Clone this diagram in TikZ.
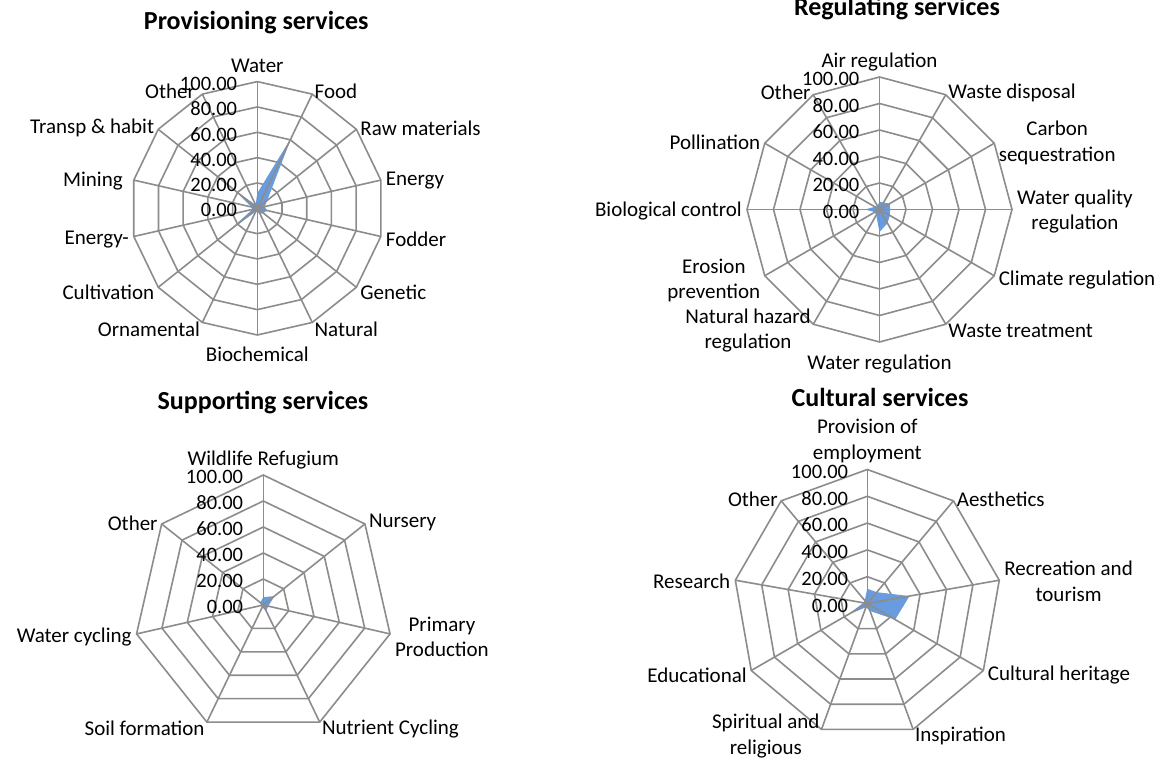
\documentclass[tikz,border=0pt]{standalone}
\usepackage{fontspec}
\setmainfont{Carlito}
\definecolor{gridgray}{RGB}{140,140,140}
\definecolor{areablue}{RGB}{104,156,222}

\begin{document}
\begin{tikzpicture}[x=1pt,y=1pt,
  ring/.style={draw=gridgray,line width=1.6pt},
  area/.style={fill=areablue},
  lab/.style={font=\fontsize{21}{25.5}\selectfont,inner sep=0pt,align=center},
  tick/.style={font=\fontsize{20.5}{25.5}\selectfont,inner sep=0pt,anchor=east},
  ttl/.style={font=\bfseries\fontsize{26}{30}\selectfont,inner sep=0pt,anchor=base}]
\path[use as bounding box,fill=white] (0,0) rectangle (1169,759);

% Provisioning services
\node[ttl] (pvtitle) at (256.2,729.7) {Provisioning services};
\begin{scope}[shift={(257.3,550.7)}]
\foreach \f in {1,...,5}
  \draw[ring] (90:{\f*25.34}) \foreach \k in {1,...,13} {-- ({90-\k*360/14}:{\f*25.34})} -- cycle;
\fill[area] (90:{12*1.267}) \foreach \v [count=\k] in {62,10,6,8,6,5,3,3,28,4,5,22,3} {-- ({90-\k*360/14}:{\v*1.267})} -- cycle;
\foreach \k in {0,...,13}
  \draw[ring] (0,0) -- ({90-\k*360/14}:126.7);
\foreach \t [count=\f from 0] in {0.00,20.00,40.00,60.00,80.00,100.00}
  \node[tick] (pvt\f) at (-20,{\f*25.34-2}) {\t};
\node[lab,anchor=base] (pv0) at (0,136.2) {Water};
\foreach \txt [count=\k] in {Food,Raw materials,Energy,Fodder,Genetic,Natural}
  \node[lab,anchor=west] (pv\k) at ([yshift=-2pt]{90-\k*360/14}:131.7) {\txt};
\node[lab,anchor=base] (pv7) at (0,-153.7) {Biochemical};
\foreach \txt/\dx [count=\k from 8] in {Ornamental/0,Cultivation/0,Energy-/0,Mining/-6,Transp \& habit/0,Other/-5}
  \node[lab,anchor=east] (pv\k) at ([xshift=\dx pt,yshift=-2pt]{90-\k*360/14}:131.7) {\txt};
\end{scope}

% Regulating services
\node[ttl] (rgtitle) at (897,743) {Regulating services};
\begin{scope}[shift={(879.5,549.5)}]
\foreach \f in {1,...,5}
  \draw[ring] (90:{\f*26.5}) \foreach \k in {1,...,11} {-- ({90-\k*30}:{\f*26.5})} -- cycle;
\fill[area] (90:{6*1.325}) \foreach \v [count=\k] in {6,9,8,9,12,17,5,4,11,4,3} {-- ({90-\k*30}:{\v*1.325})} -- cycle;
\foreach \k in {0,...,11}
  \draw[ring] (0,0) -- ({90-\k*30}:132.5);
\foreach \t [count=\f from 0] in {0.00,20.00,40.00,60.00,80.00,100.00}
  \node[tick] (rgt\f) at (-20,{\f*26.5-2}) {\t};
\node[lab,anchor=base] (rg0) at (0,142) {Air regulation};
\foreach \txt [count=\k] in {Waste disposal,{Carbon\\sequestration},{Water quality\\regulation},Climate regulation,Waste treatment}
  \node[lab,anchor=west] (rg\k) at ([yshift=-2pt]{90-\k*30}:137.5) {\txt};
\node[lab,anchor=base] (rg6) at (0,-160) {Water regulation};
\foreach \txt [count=\k from 7] in {{Natural hazard\\regulation},{Erosion\\prevention},Biological control,Pollination,Other}
  \node[lab,anchor=east] (rg\k) at ([yshift=-2pt]{90-\k*30}:137.5) {\txt};
\end{scope}

% Supporting services
\node[ttl] (sptitle) at (263,349.7) {Supporting services};
\begin{scope}[shift={(263.3,154)}]
\foreach \f in {1,...,5}
  \draw[ring] (90:{\f*26}) \foreach \k in {1,...,6} {-- ({90-\k*360/7}:{\f*26})} -- cycle;
\fill[area] (90:{6*1.3}) \foreach \v [count=\k] in {11,4,5,2,2,3} {-- ({90-\k*360/7}:{\v*1.3})} -- cycle;
\foreach \k in {0,...,6}
  \draw[ring] (0,0) -- ({90-\k*360/7}:130);
\foreach \t [count=\f from 0] in {0.00,20.00,40.00,60.00,80.00,100.00}
  \node[tick] (spt\f) at (-20,{\f*26-2}) {\t};
\node[lab,anchor=base] (sp0) at (0,139.5) {Wildlife Refugium};
\foreach \txt [count=\k] in {Nursery,{Primary\\Production},Nutrient Cycling}
  \node[lab,anchor=west] (sp\k) at ([yshift=-2pt]{90-\k*360/7}:135) {\txt};
\foreach \txt [count=\k from 4] in {Soil formation,Water cycling,Other}
  \node[lab,anchor=east] (sp\k) at ([yshift=-2pt]{90-\k*360/7}:135) {\txt};
\end{scope}

% Cultural services
\node[ttl] (cutitle) at (880,352.3) {Cultural services};
\begin{scope}[shift={(867.3,155.5)}]
\foreach \f in {1,...,5}
  \draw[ring] (90:{\f*26.8}) \foreach \k in {1,...,8} {-- ({90-\k*40}:{\f*26.8})} -- cycle;
\fill[area] (90:{11*1.34}) \foreach \v [count=\k] in {11,32,24,6,3,17,3,3} {-- ({90-\k*40}:{\v*1.34})} -- cycle;
\foreach \k in {0,...,8}
  \draw[ring] (0,0) -- ({90-\k*40}:134);
\foreach \t [count=\f from 0] in {0.00,20.00,40.00,60.00,80.00,100.00}
  \node[tick] (cut\f) at (-19,{\f*26.8-2}) {\t};
\node[lab,anchor=base] (cu0) at (0,144) {Provision of\\employment};
\foreach \txt [count=\k] in {Aesthetics,{Recreation and\\tourism},Cultural heritage,Inspiration}
  \node[lab,anchor=west] (cu\k) at ([yshift=-2pt]{90-\k*40}:139) {\txt};
\foreach \txt [count=\k from 5] in {{Spiritual and\\religious},Educational,Research,Other}
  \node[lab,anchor=east] (cu\k) at ([yshift=-2pt]{90-\k*40}:139) {\txt};
\end{scope}
\end{tikzpicture}
\end{document}
